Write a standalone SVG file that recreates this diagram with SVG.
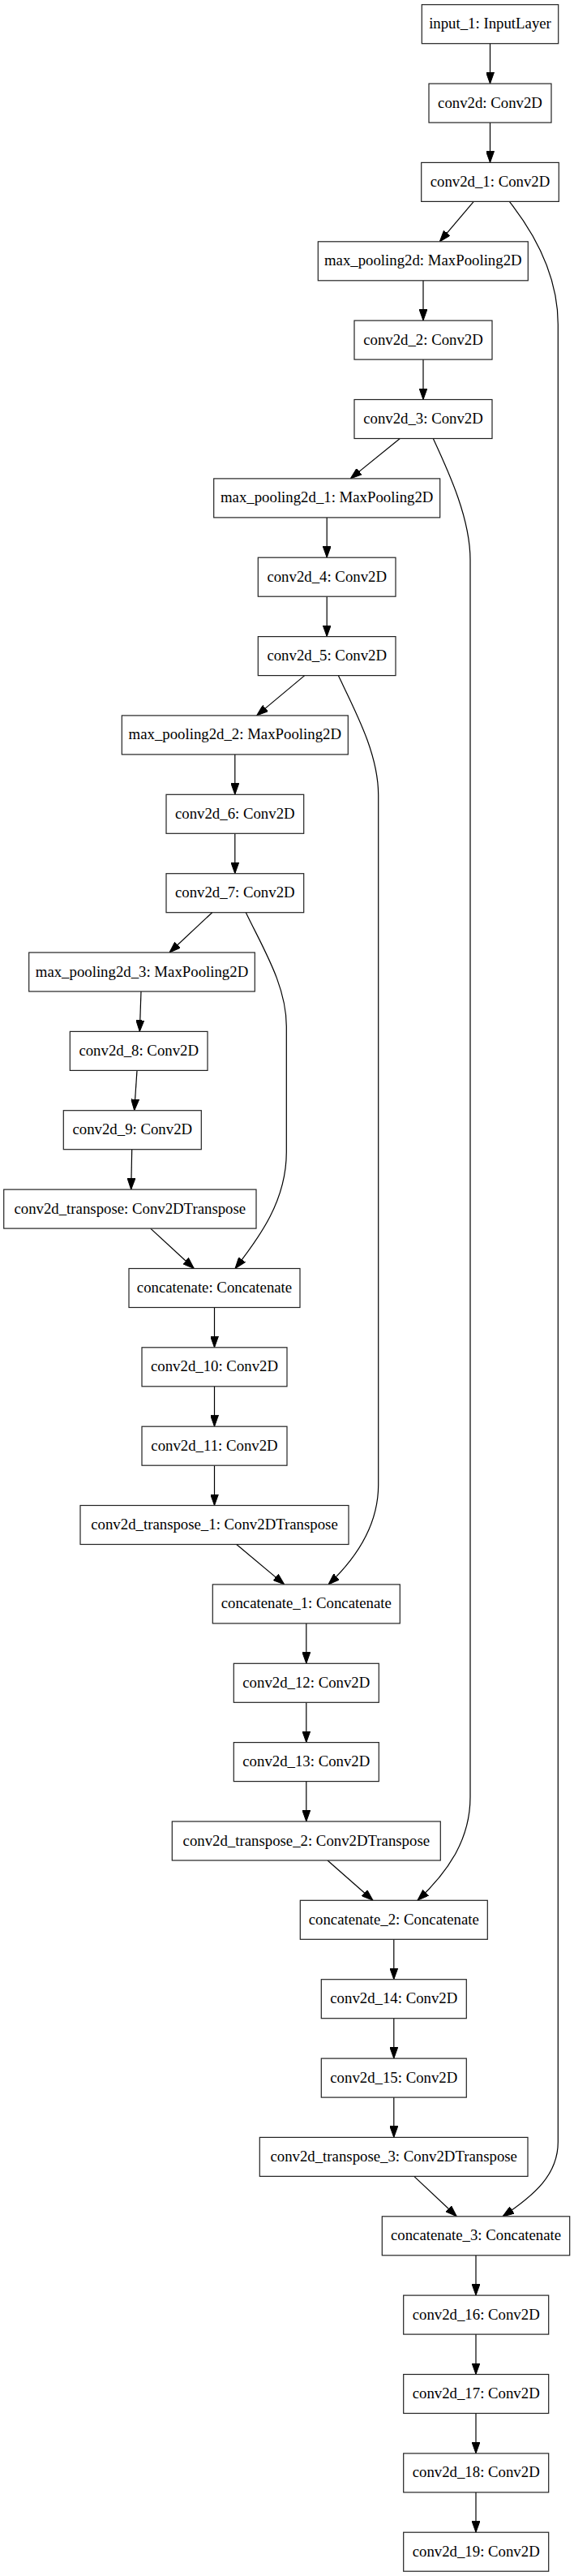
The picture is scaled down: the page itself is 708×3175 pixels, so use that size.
<svg xmlns="http://www.w3.org/2000/svg" width="708" height="3175" viewBox="0 0 708 3175">
<style>
.n rect{fill:#fff;stroke:#222;stroke-width:1.2}
.n text{font-family:"Liberation Serif","Times New Roman",serif;font-size:18.8px;fill:#000;text-anchor:middle}
.e path{fill:none;stroke:#000;stroke-width:1.2;marker-end:url(#ah)}
</style>
<defs>
<marker id="ah" markerUnits="userSpaceOnUse" viewBox="0 0 14 10" refX="14" refY="5" markerWidth="14" markerHeight="10" orient="auto">
<path d="M0,0 L14,5 L0,10 z" fill="#000" stroke="#000" stroke-width="1"/>
</marker>
</defs>
<rect x="0" y="0" width="708" height="3175" fill="#fff"/>
<g id="connectors" class="e">
<path d="M604.5,53.7 L604.5,103.1"/>
<path d="M604.5,151.1 L604.5,200.4"/>
<path d="M584.3,248.4 L542.3,297.8"/>
<path d="M522,345.8 L522,395.1"/>
<path d="M522,443.1 L522,492.5"/>
<path d="M493.3,540.5 L432.3,589.9"/>
<path d="M403.2,637.9 L403.2,687.2"/>
<path d="M403.2,735.2 L403.2,784.6"/>
<path d="M375.7,832.6 L316.7,881.9"/>
<path d="M289.8,929.9 L289.8,979.3"/>
<path d="M289.8,1027.3 L289.8,1076.7"/>
<path d="M261.7,1124.7 L209,1174"/>
<path d="M174,1222 L172.3,1271.4"/>
<path d="M169,1319.4 L165.7,1368.7"/>
<path d="M162.7,1416.7 L161.7,1466.1"/>
<path d="M185.7,1514.1 L239.3,1563.5"/>
<path d="M264.5,1611.5 L264.5,1660.8"/>
<path d="M264.5,1708.8 L264.5,1758.2"/>
<path d="M264.5,1806.2 L264.5,1855.5"/>
<path d="M291.7,1903.5 L350.7,1952.9"/>
<path d="M377.8,2000.9 L377.8,2050.3"/>
<path d="M377.8,2098.3 L377.8,2147.6"/>
<path d="M377.8,2195.6 L377.8,2245"/>
<path d="M404,2293 L460,2342.3"/>
<path d="M485.8,2390.3 L485.8,2439.7"/>
<path d="M485.8,2487.7 L485.8,2537.1"/>
<path d="M485.8,2585.1 L485.8,2634.4"/>
<path d="M510.7,2682.4 L563.3,2731.8"/>
<path d="M587,2779.8 L587,2829.1"/>
<path d="M587,2877.1 L587,2926.5"/>
<path d="M587,2974.5 L587,3023.9"/>
<path d="M587,3071.9 L587,3121.2"/>
<path d="M628.3,248.4 C665,295 688.3,345 688.3,400 L688.3,2640 C688.3,2680 660,2705 620,2731.8"/>
<path d="M534.3,540.5 C555,585 580,640 580,690 L580,2215 C580,2265 555,2305 515,2342.3"/>
<path d="M417.3,832.6 C440,880 466.7,930 466.7,980 L466.7,1830 C466.7,1880 440,1920 405,1952.9"/>
<path d="M303.3,1124.7 C325,1170 353.3,1215 353.3,1265 L353.3,1420 C353.3,1480 320,1525 290,1563.5"/>
</g>
<g id="input_1" class="n"><rect x="520.3" y="5.7" width="168.4" height="48"/><text x="604.5" y="35.2">input_1: InputLayer</text></g>
<g id="conv2d" class="n"><rect x="529" y="103.1" width="151" height="48"/><text x="604.5" y="132.6">conv2d: Conv2D</text></g>
<g id="conv2d_1" class="n"><rect x="519.7" y="200.4" width="169.6" height="48"/><text x="604.5" y="229.9">conv2d_1: Conv2D</text></g>
<g id="max_pooling2d" class="n"><rect x="392.3" y="297.8" width="259" height="48"/><text x="521.8" y="327.3">max_pooling2d: MaxPooling2D</text></g>
<g id="conv2d_2" class="n"><rect x="437" y="395.1" width="170" height="48"/><text x="522" y="424.6">conv2d_2: Conv2D</text></g>
<g id="conv2d_3" class="n"><rect x="437" y="492.5" width="170" height="48"/><text x="522" y="522">conv2d_3: Conv2D</text></g>
<g id="max_pooling2d_1" class="n"><rect x="263.7" y="589.9" width="279" height="48"/><text x="403.2" y="619.4">max_pooling2d_1: MaxPooling2D</text></g>
<g id="conv2d_4" class="n"><rect x="318.3" y="687.2" width="169.7" height="48"/><text x="403.2" y="716.7">conv2d_4: Conv2D</text></g>
<g id="conv2d_5" class="n"><rect x="318.3" y="784.6" width="169.7" height="48"/><text x="403.2" y="814.1">conv2d_5: Conv2D</text></g>
<g id="max_pooling2d_2" class="n"><rect x="150.3" y="881.9" width="279" height="48"/><text x="289.8" y="911.4">max_pooling2d_2: MaxPooling2D</text></g>
<g id="conv2d_6" class="n"><rect x="205" y="979.3" width="169.7" height="48"/><text x="289.8" y="1008.8">conv2d_6: Conv2D</text></g>
<g id="conv2d_7" class="n"><rect x="205" y="1076.7" width="169.7" height="48"/><text x="289.8" y="1106.2">conv2d_7: Conv2D</text></g>
<g id="max_pooling2d_3" class="n"><rect x="35.7" y="1174" width="278.6" height="48"/><text x="175" y="1203.5">max_pooling2d_3: MaxPooling2D</text></g>
<g id="conv2d_8" class="n"><rect x="86.3" y="1271.4" width="169.7" height="48"/><text x="171.2" y="1300.9">conv2d_8: Conv2D</text></g>
<g id="conv2d_9" class="n"><rect x="78.3" y="1368.7" width="170" height="48"/><text x="163.3" y="1398.2">conv2d_9: Conv2D</text></g>
<g id="conv2d_transpose" class="n"><rect x="4.7" y="1466.1" width="311.3" height="48"/><text x="160.3" y="1495.6">conv2d_transpose: Conv2DTranspose</text></g>
<g id="concatenate" class="n"><rect x="159" y="1563.5" width="211" height="48"/><text x="264.5" y="1593">concatenate: Concatenate</text></g>
<g id="conv2d_10" class="n"><rect x="175" y="1660.8" width="179" height="48"/><text x="264.5" y="1690.3">conv2d_10: Conv2D</text></g>
<g id="conv2d_11" class="n"><rect x="175" y="1758.2" width="179" height="48"/><text x="264.5" y="1787.7">conv2d_11: Conv2D</text></g>
<g id="conv2d_transpose_1" class="n"><rect x="99" y="1855.5" width="331" height="48"/><text x="264.5" y="1885">conv2d_transpose_1: Conv2DTranspose</text></g>
<g id="concatenate_1" class="n"><rect x="262.3" y="1952.9" width="231" height="48"/><text x="377.8" y="1982.4">concatenate_1: Concatenate</text></g>
<g id="conv2d_12" class="n"><rect x="288.3" y="2050.3" width="179" height="48"/><text x="377.8" y="2079.8">conv2d_12: Conv2D</text></g>
<g id="conv2d_13" class="n"><rect x="288.3" y="2147.6" width="179" height="48"/><text x="377.8" y="2177.1">conv2d_13: Conv2D</text></g>
<g id="conv2d_transpose_2" class="n"><rect x="212.3" y="2245" width="331" height="48"/><text x="377.8" y="2274.5">conv2d_transpose_2: Conv2DTranspose</text></g>
<g id="concatenate_2" class="n"><rect x="370.3" y="2342.3" width="231" height="48"/><text x="485.8" y="2371.8">concatenate_2: Concatenate</text></g>
<g id="conv2d_14" class="n"><rect x="396.3" y="2439.7" width="179" height="48"/><text x="485.8" y="2469.2">conv2d_14: Conv2D</text></g>
<g id="conv2d_15" class="n"><rect x="396.3" y="2537.1" width="179" height="48"/><text x="485.8" y="2566.6">conv2d_15: Conv2D</text></g>
<g id="conv2d_transpose_3" class="n"><rect x="320.3" y="2634.4" width="330.7" height="48"/><text x="485.7" y="2663.9">conv2d_transpose_3: Conv2DTranspose</text></g>
<g id="concatenate_3" class="n"><rect x="471.3" y="2731.8" width="231.4" height="48"/><text x="587" y="2761.3">concatenate_3: Concatenate</text></g>
<g id="conv2d_16" class="n"><rect x="497.7" y="2829.1" width="179" height="48"/><text x="587.2" y="2858.6">conv2d_16: Conv2D</text></g>
<g id="conv2d_17" class="n"><rect x="497.7" y="2926.5" width="179" height="48"/><text x="587.2" y="2956">conv2d_17: Conv2D</text></g>
<g id="conv2d_18" class="n"><rect x="497.7" y="3023.9" width="179" height="48"/><text x="587.2" y="3053.4">conv2d_18: Conv2D</text></g>
<g id="conv2d_19" class="n"><rect x="497.7" y="3121.2" width="179" height="48"/><text x="587.2" y="3150.7">conv2d_19: Conv2D</text></g>
</svg>
